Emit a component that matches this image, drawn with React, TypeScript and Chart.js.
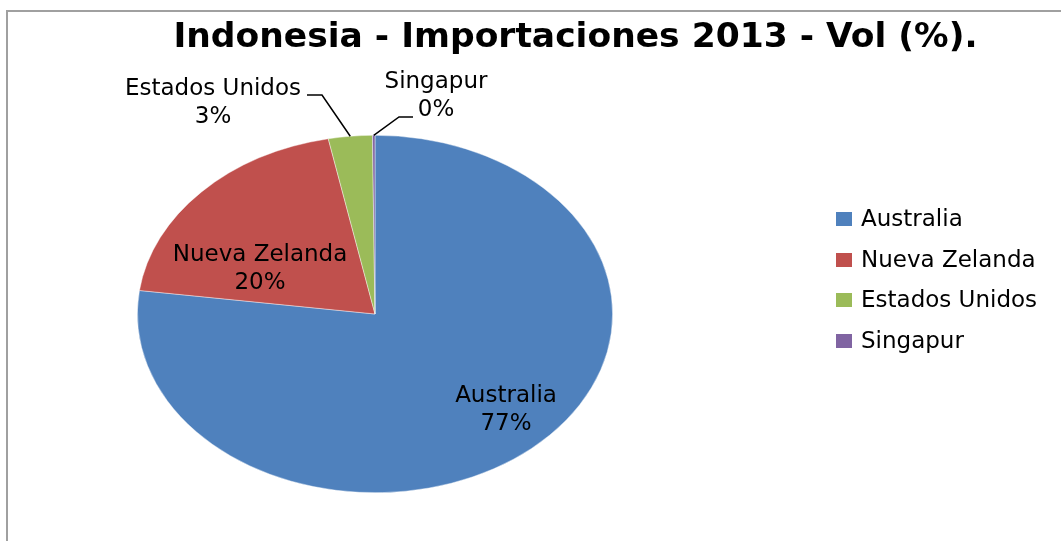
import React, { useEffect, useRef } from "react";
import { Chart, registerables } from "chart.js";

Chart.register(...registerables);

const TITLE = "Indonesia - Importaciones 2013 - Vol (%).";
const categories = ["Australia", "Nueva Zelanda", "Estados Unidos", "Singapur"];
const values = [77.1, 19.75, 2.98, 0.17];
const percentLabels = ["77%", "20%", "3%", "0%"];
const colors = ["#4F81BD", "#C0504D", "#9BBB59", "#8064A2"];

const W = 1061;
const H = 541;
const CX = 375;
const CY = 314;
const RY = 179;
const RX = 238;
const SX = RX / RY;

const FONT = "23px 'DejaVu Sans'";

const labelLayout = [
  { x: 506, y: 396 },
  { x: 260, y: 255 },
  { x: 213, y: 89, leader: [[307, 95], [322, 95]] },
  { x: 436, y: 82, leader: [[413, 117], [399, 117]] },
];

const ellipsePlugin = {
  id: "ellipse",
  beforeDatasetsDraw(chart: any) {
    const ctx = chart.ctx;
    const meta = chart.getDatasetMeta(0);
    const a = meta.data[0];
    ctx.save();
    ctx.translate(a.x, a.y);
    ctx.scale(SX, 1);
    ctx.translate(-a.x, -a.y);
  },
  afterDatasetsDraw(chart: any) {
    chart.ctx.restore();
  },
};

const decorPlugin = {
  id: "decor",
  beforeDraw(chart: any) {
    const ctx = chart.ctx;
    ctx.save();
    ctx.fillStyle = "#ffffff";
    ctx.fillRect(0, 0, W, H);
    ctx.strokeStyle = "#a0a0a0";
    ctx.lineWidth = 2;
    ctx.strokeRect(7, 11, W + 20, H + 20);
    ctx.restore();
  },
  afterDraw(chart: any) {
    const ctx = chart.ctx;
    ctx.save();
    ctx.fillStyle = "#000";
    ctx.font = "bold 34.5px 'DejaVu Sans'";
    ctx.textAlign = "center";
    ctx.textBaseline = "alphabetic";
    ctx.fillText(TITLE, 575.5, 47);

    const meta = chart.getDatasetMeta(0);
    ctx.font = FONT;
    ctx.textBaseline = "middle";
    categories.forEach((cat, i) => {
      const L: any = labelLayout[i];
      ctx.fillStyle = "#000";
      ctx.fillText(cat, L.x, L.y);
      ctx.fillText(percentLabels[i], L.x, L.y + 28);
      if (L.leader) {
        const arc = meta.data[i];
        const mid = (arc.startAngle + arc.endAngle) / 2;
        const ex = arc.x + SX * arc.outerRadius * Math.cos(mid);
        const ey = arc.y + arc.outerRadius * Math.sin(mid);
        ctx.strokeStyle = "#000";
        ctx.lineWidth = 1.5;
        ctx.beginPath();
        ctx.moveTo(L.leader[0][0], L.leader[0][1]);
        ctx.lineTo(L.leader[1][0], L.leader[1][1]);
        ctx.lineTo(ex, ey);
        ctx.stroke();
      }
    });

    ctx.textAlign = "left";
    ctx.font = "23px 'DejaVu Sans'";
    const rowY = [219, 260, 300, 341];
    categories.forEach((cat, i) => {
      ctx.fillStyle = colors[i];
      ctx.fillRect(836, rowY[i] - 7, 16, 14);
      ctx.fillStyle = "#000";
      ctx.fillText(cat, 861, rowY[i] + 1);
    });
    ctx.restore();
  },
};

export default function App() {
  const ref = useRef<HTMLCanvasElement | null>(null);
  useEffect(() => {
    if (!ref.current) return;
    const chart = new Chart(ref.current, {
      type: "pie",
      data: {
        labels: categories,
        datasets: [
          {
            data: values,
            backgroundColor: colors,
            borderColor: "rgba(255,255,255,0.6)",
            borderWidth: 0.6,
            hoverOffset: 0,
          },
        ],
      },
      options: {
        responsive: false,
        animation: false,
        events: [],
        layout: {
          padding: {
            left: CX - RY,
            right: W - CX - RY,
            top: CY - RY,
            bottom: H - CY - RY,
          },
        },
        plugins: {
          legend: { display: false },
          title: { display: false },
          tooltip: { enabled: false },
        },
      },
      plugins: [decorPlugin, ellipsePlugin],
    });
    return () => chart.destroy();
  }, []);
  return (
    <div style={{ position: "absolute", left: 0, top: 0, width: W, height: H }}>
      <canvas ref={ref} width={W} height={H} style={{ display: "block" }} />
    </div>
  );
}
